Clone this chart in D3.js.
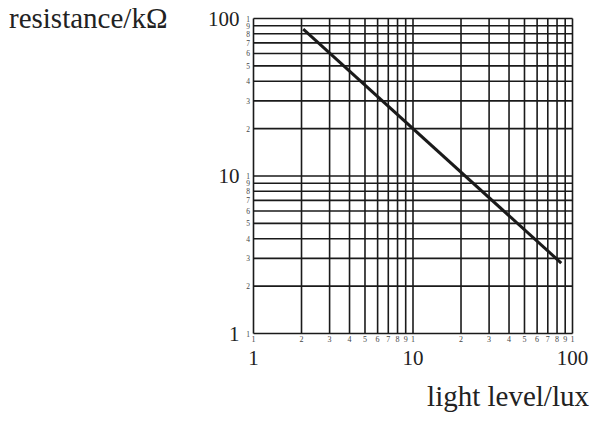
<!DOCTYPE html>
<html>
<head>
<meta charset="utf-8">
<title>LDR resistance vs light level</title>
<script src="https://d3js.org/d3.v7.min.js"></script>
<style>
  body { margin: 0; background: #fff; }
  svg { display: block; font-family: "Liberation Serif", "DejaVu Serif", serif; }
</style>
</head>
<body>
<svg id="chart" width="594" height="421"></svg>
<script>
// data
var lightLevel = [2.05, 85];      // lux
var resistance = [85.5, 2.8];     // kOhm
var majorTicks = [1, 10, 100];
var minorDigits = [1, 2, 3, 4, 5, 6, 7, 8, 9];

var svg = d3.select("#chart");
var plotL = 253.5, plotR = 572.5, plotT = 18.5, plotB = 333.5;

var x = d3.scaleLog().domain([1, 100]).range([plotL, plotR]);
var y = d3.scaleLog().domain([1, 100]).range([plotB, plotT]);

// every grid value 1..9 in each decade, plus the final 100
var gridVals = [];
[1, 10].forEach(function(dec) {
    minorDigits.forEach(function(d) { gridVals.push(d * dec); });
});
gridVals.push(100);

var grid = svg.append("g");
grid.selectAll("line.v").data(gridVals).enter().append("line")
    .attr("class", "v")
    .attr("x1", function(d) { return x(d); })
    .attr("x2", function(d) { return x(d); })
    .attr("y1", plotT).attr("y2", plotB)
    .attr("stroke", "#1a1a1a").attr("stroke-width", 1.6);
grid.selectAll("line.h").data(gridVals).enter().append("line")
    .attr("class", "h")
    .attr("y1", function(d) { return y(d); })
    .attr("y2", function(d) { return y(d); })
    .attr("x1", plotL).attr("x2", plotR)
    .attr("stroke", "#1a1a1a").attr("stroke-width", 1.6);

// small digit labels
function digit(d) { return String(Math.round(d / Math.pow(10, Math.floor(Math.log10(d) + 1e-9)))); }

svg.append("g").selectAll("text").data(gridVals).enter().append("text")
    .attr("x", function(d) { return x(d); })
    .attr("y", plotB + 8)
    .attr("text-anchor", "middle")
    .attr("font-size", 8)
    .attr("fill", "#444")
    .text(digit);

svg.append("g").selectAll("text").data(gridVals).enter().append("text")
    .attr("x", plotL - 3.5)
    .attr("y", function(d) { return y(d) + 3; })
    .attr("text-anchor", "end")
    .attr("font-size", 7.5)
    .attr("fill", "#444")
    .text(digit);

// big decade labels
svg.append("g").selectAll("text").data(majorTicks).enter().append("text")
    .attr("x", function(d) { return x(d); })
    .attr("y", plotB + 31)
    .attr("text-anchor", "middle")
    .attr("font-size", 21)
    .attr("fill", "#222")
    .text(function(d) { return d; });

svg.append("g").selectAll("text").data(majorTicks).enter().append("text")
    .attr("x", plotL - 14)
    .attr("y", function(d) { return y(d) + 7; })
    .attr("text-anchor", "end")
    .attr("font-size", 21)
    .attr("fill", "#222")
    .text(function(d) { return d; });

// the characteristic line
var pts = lightLevel.map(function(v, i) { return [v, resistance[i]]; });
svg.append("path")
    .datum(pts)
    .attr("d", d3.line().x(function(d) { return x(d[0]); }).y(function(d) { return y(d[1]); }))
    .attr("fill", "none")
    .attr("stroke", "#1a1a1a")
    .attr("stroke-width", 3);

// axis titles
svg.append("text")
    .attr("x", 9).attr("y", 28)
    .attr("font-size", 29)
    .attr("fill", "#222")
    .text("resistance/k\u03A9");

svg.append("text")
    .attr("x", 589).attr("y", 406)
    .attr("text-anchor", "end")
    .attr("font-size", 29)
    .attr("fill", "#222")
    .text("light level/lux");
</script>
</body>
</html>
